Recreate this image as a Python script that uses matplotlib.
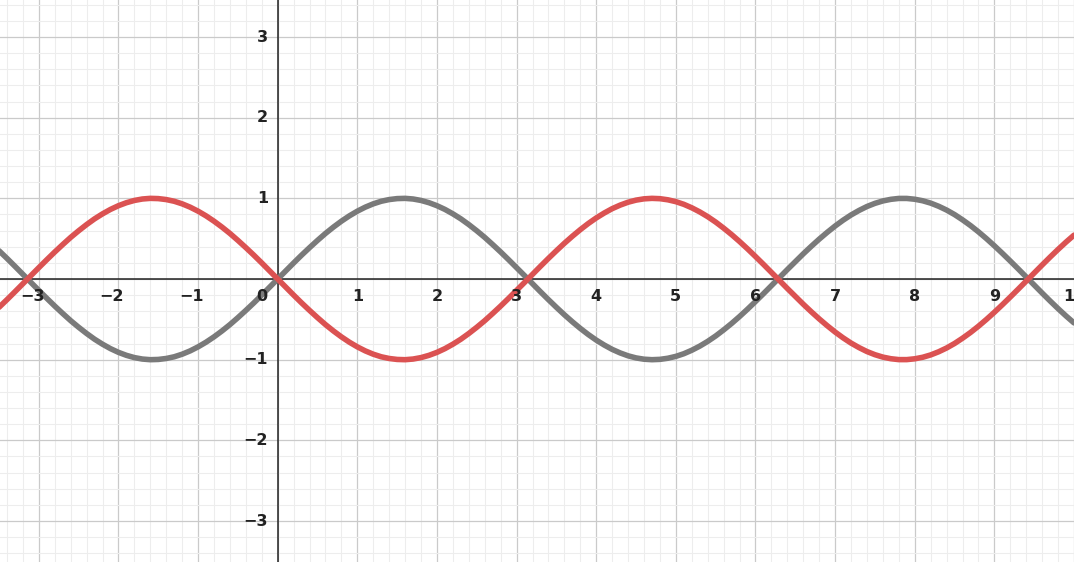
import matplotlib
matplotlib.use("Agg")
import matplotlib.pyplot as plt
import matplotlib.transforms as mtrans
import numpy as np

# sample positions (every 0.1) and curve heights
x_vals = [-3.5, -3.4, -3.3, -3.2, -3.1, -3.0, -2.9, -2.8, -2.7, -2.6,
          -2.5, -2.4, -2.3, -2.2, -2.1, -2.0, -1.9, -1.8, -1.7, -1.6,
          -1.5, -1.4, -1.3, -1.2, -1.1, -1.0, -0.9, -0.8, -0.7, -0.6,
          -0.5, -0.4, -0.3, -0.2, -0.1, 0.0, 0.1, 0.2, 0.3, 0.4,
          0.5, 0.6, 0.7, 0.8, 0.9, 1.0, 1.1, 1.2, 1.3, 1.4,
          1.5, 1.6, 1.7, 1.8, 1.9, 2.0, 2.1, 2.2, 2.3, 2.4,
          2.5, 2.6, 2.7, 2.8, 2.9, 3.0, 3.1, 3.2, 3.3, 3.4,
          3.5, 3.6, 3.7, 3.8, 3.9, 4.0, 4.1, 4.2, 4.3, 4.4,
          4.5, 4.6, 4.7, 4.8, 4.9, 5.0, 5.1, 5.2, 5.3, 5.4,
          5.5, 5.6, 5.7, 5.8, 5.9, 6.0, 6.1, 6.2, 6.3, 6.4,
          6.5, 6.6, 6.7, 6.8, 6.9, 7.0, 7.1, 7.2, 7.3, 7.4,
          7.5, 7.6, 7.7, 7.8, 7.9, 8.0, 8.1, 8.2, 8.3, 8.4,
          8.5, 8.6, 8.7, 8.8, 8.9, 9.0, 9.1, 9.2, 9.3, 9.4,
          9.5, 9.6, 9.7, 9.8, 9.9, 10.0]

gray_y = [0.351, 0.256, 0.158, 0.058, -0.042, -0.141, -0.239, -0.335, -0.427, -0.516,
          -0.598, -0.675, -0.746, -0.808, -0.863, -0.909, -0.946, -0.974, -0.992, -1.000,
          -0.997, -0.985, -0.964, -0.932, -0.891, -0.841, -0.783, -0.717, -0.644, -0.565,
          -0.479, -0.389, -0.296, -0.199, -0.100, 0.000, 0.100, 0.199, 0.296, 0.389,
          0.479, 0.565, 0.644, 0.717, 0.783, 0.841, 0.891, 0.932, 0.964, 0.985,
          0.997, 1.000, 0.992, 0.974, 0.946, 0.909, 0.863, 0.808, 0.746, 0.675,
          0.598, 0.516, 0.427, 0.335, 0.239, 0.141, 0.042, -0.058, -0.158, -0.256,
          -0.351, -0.443, -0.530, -0.612, -0.688, -0.757, -0.818, -0.872, -0.916, -0.952,
          -0.978, -0.994, -1.000, -0.996, -0.982, -0.959, -0.926, -0.883, -0.832, -0.773,
          -0.706, -0.631, -0.551, -0.465, -0.374, -0.279, -0.182, -0.083, 0.017, 0.117,
          0.215, 0.312, 0.405, 0.494, 0.578, 0.657, 0.729, 0.794, 0.850, 0.899,
          0.938, 0.968, 0.988, 0.999, 0.999, 0.989, 0.970, 0.941, 0.902, 0.855,
          0.799, 0.734, 0.663, 0.585, 0.501, 0.412, 0.319, 0.223, 0.125, 0.025,
          -0.075, -0.174, -0.272, -0.367, -0.458, -0.544]

red_y = [-0.351, -0.256, -0.158, -0.058, 0.042, 0.141, 0.239, 0.335, 0.427, 0.516,
         0.598, 0.675, 0.746, 0.808, 0.863, 0.909, 0.946, 0.974, 0.992, 1.000,
         0.997, 0.985, 0.964, 0.932, 0.891, 0.841, 0.783, 0.717, 0.644, 0.565,
         0.479, 0.389, 0.296, 0.199, 0.100, 0.000, -0.100, -0.199, -0.296, -0.389,
         -0.479, -0.565, -0.644, -0.717, -0.783, -0.841, -0.891, -0.932, -0.964, -0.985,
         -0.997, -1.000, -0.992, -0.974, -0.946, -0.909, -0.863, -0.808, -0.746, -0.675,
         -0.598, -0.516, -0.427, -0.335, -0.239, -0.141, -0.042, 0.058, 0.158, 0.256,
         0.351, 0.443, 0.530, 0.612, 0.688, 0.757, 0.818, 0.872, 0.916, 0.952,
         0.978, 0.994, 1.000, 0.996, 0.982, 0.959, 0.926, 0.883, 0.832, 0.773,
         0.706, 0.631, 0.551, 0.465, 0.374, 0.279, 0.182, 0.083, -0.017, -0.117,
         -0.215, -0.312, -0.405, -0.494, -0.578, -0.657, -0.729, -0.794, -0.850, -0.899,
         -0.938, -0.968, -0.988, -0.999, -0.999, -0.989, -0.970, -0.941, -0.902, -0.855,
         -0.799, -0.734, -0.663, -0.585, -0.501, -0.412, -0.319, -0.223, -0.125, -0.025,
         0.075, 0.174, 0.272, 0.367, 0.458, 0.544]

x_ticks = [-3, -2, -1, 0, 1, 2, 3, 4, 5, 6, 7, 8, 9, 10]
y_ticks = [-3, -2, -1, 1, 2, 3]

fig = plt.figure(figsize=(10.74, 5.62), dpi=100)
ax = fig.add_axes([0, 0, 1, 1])
ax.set_xlim(-3.4875, 9.9375)
ax.set_ylim(-3.508, 3.459)

# grid: minor every 0.2, major every 1
ax.set_xticks(np.arange(-3, 10.01, 1))
ax.set_yticks(np.arange(-3, 3.01, 1))
ax.set_xticks(np.arange(-3.4, 10.01, 0.2), minor=True)
ax.set_yticks(np.arange(-3.4, 3.5, 0.2), minor=True)
ax.grid(which='minor', color='#ededed', linewidth=0.8)
ax.grid(which='major', color='#cacaca', linewidth=0.9)
ax.tick_params(which='both', length=0, labelbottom=False, labelleft=False)
for s in ax.spines.values():
    s.set_visible(False)
ax.set_axisbelow(True)

ax.axhline(0, color='#222222', linewidth=1.1, zorder=2)
ax.axvline(0, color='#222222', linewidth=1.1, zorder=2)

ax.plot(x_vals, gray_y, color='#7a7a7a', linewidth=4.0, solid_capstyle='round',
        solid_joinstyle='round', zorder=3)
ax.plot(x_vals, red_y, color='#db5252', linewidth=4.0, solid_capstyle='round',
        solid_joinstyle='round', zorder=4)

lab = dict(fontsize=11.5, fontweight='bold', color='#222222', family='DejaVu Sans', zorder=5)
shift = ax.transData + mtrans.ScaledTranslation(0.055, 0, fig.dpi_scale_trans)
for t in x_ticks:
    if t == 0:
        ax.text(-0.2, -0.22, '0', ha='center', va='center', **lab)
    elif t < 0:
        ax.text(t, -0.22, '\u2212' + str(-t), ha='right', va='center', transform=shift, **lab)
    else:
        ax.text(t, -0.22, str(t), ha='center', va='center', **lab)
for t in y_ticks:
    s = str(t) if t > 0 else '\u2212' + str(-t)
    ax.text(-0.12, t, s, ha='right', va='center', **lab)

plt.savefig('out.png', dpi=100)
